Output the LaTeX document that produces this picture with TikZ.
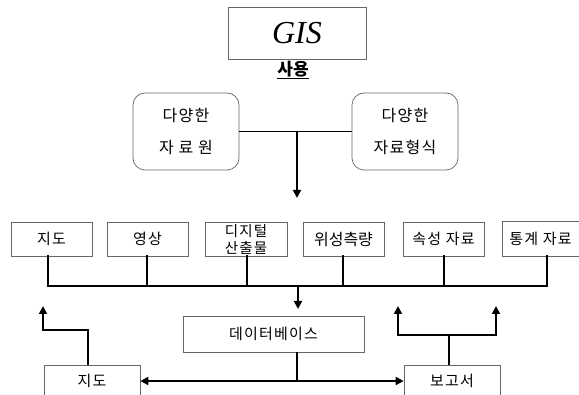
\documentclass[tikz,border=0pt]{standalone}
\usepackage{fontspec}
\setmainfont{Liberation Serif}
\newfontfamily\kr{Noto Sans CJK KR}
\newfontfamily\krw[LetterSpace=8]{Noto Sans CJK KR}
\usetikzlibrary{arrows.meta}
\begin{document}
\begin{tikzpicture}[x=1pt,y=-1pt,
  box/.style={draw=black!60,line width=0.7pt,fill=white,inner sep=0pt,font=\krw\fontsize{15}{17}\selectfont,align=center},
  rbox/.style={box,rounded corners=12pt,font=\krw\fontsize{16}{32}\selectfont},
  link/.style={line width=1.8pt,line cap=rect},
  arr/.style={line width=1.8pt,-{Triangle[length=8pt,width=8pt]}}]
\useasboundingbox (0,0) rectangle (579,395);
\clip (0,0) rectangle (579,395);
% top
\node[box,minimum width=138pt,minimum height=52pt,font=\fontsize{32}{36}\selectfont\itshape] (gis) at (297,33) {GIS};
\node[font=\kr\fontsize{17}{19}\selectfont\bfseries,inner sep=1pt] (use) at (293,70) {\underline{사용}};
\node[rbox,minimum width=106pt,minimum height=77pt] (src) at (186,131.5) {다양한\\자 료 원};
\node[rbox,minimum width=106pt,minimum height=77pt] (fmt) at (405,131.5) {다양한\\자료형식};
\coordinate (j1) at (297,132);
\coordinate (t1) at (297,198);
\draw[link,line cap=butt] (src.east) -- (fmt.west);
\draw[arr] (j1) -- (t1);
% row
\node[box,minimum width=81pt,minimum height=34pt] (b1) at (51.5,239) {지도};
\node[box,minimum width=81pt,minimum height=34pt] (b2) at (147.5,239) {영상};
\node[box,minimum width=82pt,minimum height=34pt,font=\krw\fontsize{14.5}{17}\selectfont] (b3) at (246,239) {디지털\\산출물};
\node[box,minimum width=81pt,minimum height=34pt,font=\kr\fontsize{16}{18}\selectfont] (b4) at (343.5,239) {위성측량};
\node[box,minimum width=81pt,minimum height=34pt] (b5) at (443.5,239) {속성 자료};
\node[box,minimum width=77pt,minimum height=35pt] (b6) at (540.5,238.5) {통계 자료};
\coordinate (s1) at (48,286);
\coordinate (s2) at (147,286);
\coordinate (s3) at (247,286);
\coordinate (s4) at (343,286);
\coordinate (s5) at (444,286);
\coordinate (s6) at (547,286);
\draw[link] (b1.south -| s1) -- (s1) -- (s6) -- (b6.south -| s6);
\foreach \i in {2,3,4,5} \draw[link] (b\i.south -| s\i) -- (s\i);
\coordinate (j2) at (298,286);
\coordinate (t2) at (298,309);
\draw[arr] (j2) -- (t2);
% database
\node[box,minimum width=181pt,minimum height=36pt] (db) at (273.5,334) {데이터베이스};
% bottom
\node[box,minimum width=96pt,minimum height=40pt,anchor=north] (m) at (92,365) {};
\node[font=\krw\fontsize{15}{17}\selectfont,inner sep=0pt] (mt) at (92,381) {지도};
\node[box,minimum width=96pt,minimum height=40pt,anchor=north] (r) at (452,365) {};
\node[font=\krw\fontsize{15}{17}\selectfont,inner sep=0pt] (rt) at (452,381) {보고서};
\coordinate (j3) at (297,381);
\draw[link,line cap=butt] (db.south -| j3) -- (j3);
\draw[line width=1.8pt,{Triangle[length=8pt,width=8pt]}-{Triangle[length=8pt,width=8pt]}] (m.east |- j3) -- (r.west |- j3);
% up arrows
\coordinate (l1) at (88,330);
\coordinate (l2) at (43,330);
\coordinate (l3) at (43,306);
\draw[arr] (m.north -| l1) -- (l1) -- (l2) -- (l3);
\coordinate (r1) at (449,335);
\coordinate (r2) at (398,335);
\coordinate (r3) at (398,306);
\coordinate (r4) at (496,335);
\coordinate (r5) at (496,306);
\draw[link,line cap=butt] (r.north -| r1) -- (r1);
\draw[arr] (r1) -- (r2) -- (r3);
\draw[arr] (r1) -- (r4) -- (r5);
\end{tikzpicture}
\end{document}
